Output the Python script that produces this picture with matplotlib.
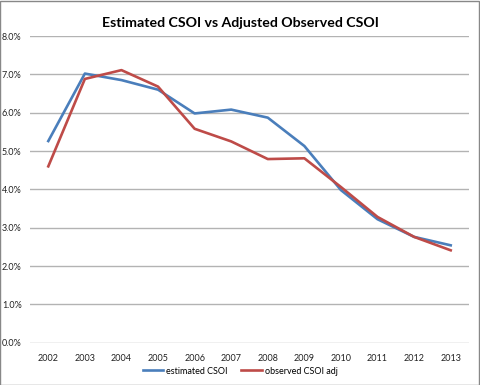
import matplotlib
matplotlib.use("Agg")
import matplotlib.pyplot as plt
import matplotlib.ticker as tck
from matplotlib.patches import Rectangle

plt.rcParams['font.family'] = ['Lato', 'DejaVu Sans']

years = ['2002', '2003', '2004', '2005', '2006', '2007',
         '2008', '2009', '2010', '2011', '2012', '2013']
estimated = [5.26, 7.02, 6.85, 6.60, 5.98, 6.08, 5.87, 5.13, 3.98, 3.22, 2.76, 2.54]
observed = [4.60, 6.88, 7.11, 6.68, 5.58, 5.25, 4.79, 4.81, 4.06, 3.28, 2.76, 2.41]

fig = plt.figure(figsize=(4.8, 3.85), dpi=100)
ax = fig.add_axes([30/480, 1 - 342.7/385, 439/480, (342.7 - 36)/385])

x = range(len(years))
ax.plot(x, estimated, color='#4a7ebb', linewidth=1.9, label='estimated CSOI')
ax.plot(x, observed, color='#be4b48', linewidth=1.9, label='observed CSOI adj')

ax.set_xlim(-0.5, len(years) - 0.5)
ax.set_ylim(0, 8)
ax.set_yticks(range(0, 9))
ax.yaxis.set_major_formatter(tck.FuncFormatter(lambda v, p: '%.1f%%' % v))
ax.set_xticks(list(x))
ax.set_xticklabels(years)
ax.grid(axis='y', color='#b3b3b3', linewidth=1.0)
ax.set_axisbelow(True)
for s in ax.spines.values():
	s.set_visible(False)
ax.tick_params(axis='both', length=0, labelsize=6.5, colors='#222222')
ax.tick_params(axis='y', pad=6)
ax.tick_params(axis='x', pad=8)

fig.text(0.5, 0.94, 'Estimated CSOI vs Adjusted Observed CSOI', ha='center', va='center',
	fontsize=10.2, fontweight='bold')
fig.legend(loc='center', bbox_to_anchor=(0.5, 1 - 371/385), ncol=2, frameon=False,
	fontsize=6.5, handlelength=2.3, columnspacing=1.5, handletextpad=0.3)

fig.patches.append(Rectangle((0.001, 0.001), 0.997, 0.997, transform=fig.transFigure,
	fill=False, edgecolor='#888888', linewidth=1.0))

fig.savefig('out.png', dpi=100)
